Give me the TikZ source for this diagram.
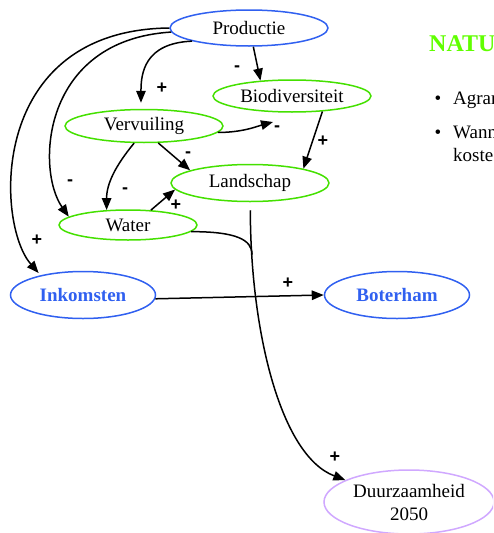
\documentclass[tikz,border=0pt]{standalone}
\usepackage{fontspec}
\setmainfont{Liberation Serif}
\newfontfamily\signfont{Liberation Sans}
\usetikzlibrary{shapes.geometric,arrows.meta}
\definecolor{prodblue}{RGB}{48,96,240}
\definecolor{factgreen}{RGB}{68,224,0}
\definecolor{titlegreen}{RGB}{96,255,0}
\definecolor{goallilac}{RGB}{208,168,255}
\tikzset{
  factor/.style={ellipse,draw=factgreen,line width=1.5pt,inner sep=0pt,
    font=\fontsize{19}{23}\selectfont},
  money/.style={factor,draw=prodblue,text=prodblue,
    font=\fontsize{19}{23}\selectfont\bfseries},
  link/.style={line width=1.5pt,-{Triangle[length=12pt,width=9.5pt]}},
  sign/.style={font=\signfont\bfseries\fontsize{18}{18}\selectfont,inner sep=0pt},
  slide/.style={anchor=base west,inner sep=0pt,font=\fontsize{19}{23}\selectfont},
}
\begin{document}
\begin{tikzpicture}[x=1pt,y=-1pt]
  \useasboundingbox (0,0) rectangle (493,533);
  \clip (0,0) rectangle (493,533);
  % the factors
  \node[factor,draw=prodblue,minimum width=158pt,minimum height=36pt] (prod) at (249,28) {Productie};
  \node[factor,minimum width=158pt,minimum height=32pt] (bio) at (292,96) {Biodiversiteit};
  \node[factor,minimum width=158pt,minimum height=33pt] (verv) at (144,126) {Vervuiling};
  \node[factor,minimum width=158pt,minimum height=37pt] (land) at (250,183) {Landschap};
  \node[factor,minimum width=138pt,minimum height=30pt] (water) at (128,225) {Water};
  \node[money,minimum width=145pt,minimum height=47pt] (ink) at (83,295) {Inkomsten};
  \node[money,minimum width=145pt,minimum height=47pt] (bot) at (397,295) {Boterham};
  \node[factor,draw=goallilac,align=center,minimum width=170pt,minimum height=64pt] (duur) at (409,502) {Duurzaamheid\\2050};
  \coordinate (bioin) at ([shift={(-19,26)}]bio.center);
  % the links
  \draw[link,shorten >=6pt] (prod.193) .. controls +(-48,2) and +(0,-35) .. (verv.100);
  \draw[link] (prod.283) -- (bio.154);
  \draw[link] (prod.183) .. controls +(-130,8) and +(-33,-47) .. (water.172);
  \draw[link,shorten >=3pt] (prod.west) .. controls +(-182,2) and +(-45,-51) .. (ink.155);
  \draw[link] (verv.355) .. controls +(25,0) and +(-15,4) .. (bioin);
  \draw[link] (verv.310) -- (land.168);
  \draw[link] (verv.240) .. controls +(-19,23) and +(0,-26) .. (water.145);
  \draw[link] (water.33) -- (land.185);
  \draw[link] (bio.333) -- (land.15);
  \draw[link] (ink.357) -- (bot.west);
  \draw[link,shorten <=8pt] (land.271) .. controls +(0,125) and +(-66,-25) .. coordinate[pos=0.14] (merge) (duur.161);
  \draw[line width=1.5pt] (water.354) .. controls +(45,0) and +(0,-15) .. (merge);
  % the signs
  \node[sign] (s1) at (162,88) {+};
  \node[sign] (s2) at (237,69) {-};
  \node[sign] (s3) at (277,129) {-};
  \node[sign] (s4) at (323,141) {+};
  \node[sign] (s5) at (188,155) {-};
  \node[sign] (s6) at (70,183) {-};
  \node[sign] (s7) at (125,191) {-};
  \node[sign] (s8) at (176,205) {+};
  \node[sign] (s9) at (37,240) {+};
  \node[sign] (s10) at (288,283) {+};
  \node[sign] (s11) at (335,457) {+};
  % the slide text on the right
  \node[slide,text=titlegreen,font=\fontsize{24}{24}\selectfont\bfseries] (title) at (429,51) {NATU};
  \node[slide,anchor=base] (dot1) at (438,104) {\textbullet};
  \node[slide] (item1) at (453,104) {Agrar};
  \node[slide,anchor=base] (dot2) at (438,138) {\textbullet};
  \node[slide] (item2) at (453,138) {Wann};
  \node[slide] (item3) at (453,161) {koste};
\end{tikzpicture}
\end{document}
